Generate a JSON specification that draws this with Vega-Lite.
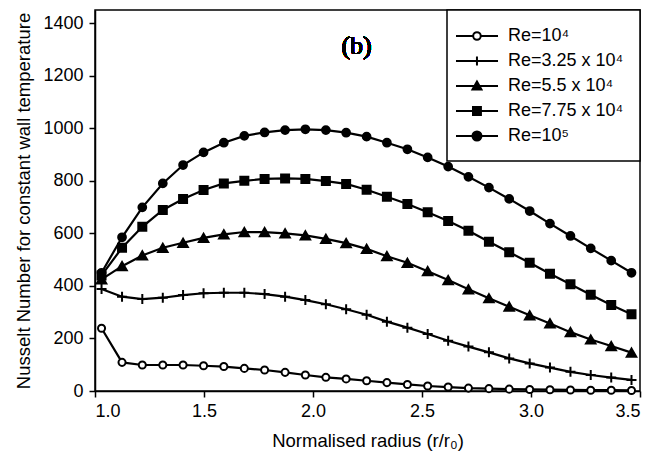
{
  "$schema": "https://vega.github.io/schema/vega-lite/v6.json",
  "width": 545,
  "height": 381,
  "autosize": {"type": "none"},
  "padding": {"left": 95, "top": 10, "right": 23, "bottom": 70},
  "background": "white",
  "config": {
    "view": {"stroke": "black", "strokeWidth": 1.5},
    "axis": {
      "labelFont": "Liberation Sans",
      "titleFont": "Liberation Sans",
      "labelFontSize": 18,
      "titleFontSize": 18.5,
      "titleFontWeight": "normal",
      "labelColor": "black",
      "titleColor": "black",
      "domainColor": "black",
      "domainWidth": 1.5,
      "tickColor": "black",
      "tickWidth": 1.5,
      "tickSize": 6,
      "grid": false
    },
    "legend": {
      "orient": "top-right",
      "offset": 0,
      "padding": 16,
      "rowPadding": 6,
      "strokeColor": "black",
      "strokeWidth": 1.5,
      "fillColor": "white",
      "labelFont": "Liberation Sans",
      "labelFontSize": 18,
      "labelColor": "black",
      "labelOffset": 25,
      "symbolSize": 324,
      "symbolStrokeWidth": 2,
      "symbolStrokeColor": "black"
    }
  },
  "datasets": {
    "nusselt": [
      {"s": "Re=10⁴", "x": 1.03, "y": 239},
      {"s": "Re=10⁴", "x": 1.124, "y": 109},
      {"s": "Re=10⁴", "x": 1.217, "y": 99},
      {"s": "Re=10⁴", "x": 1.311, "y": 99},
      {"s": "Re=10⁴", "x": 1.404, "y": 99},
      {"s": "Re=10⁴", "x": 1.498, "y": 96},
      {"s": "Re=10⁴", "x": 1.591, "y": 93},
      {"s": "Re=10⁴", "x": 1.685, "y": 86},
      {"s": "Re=10⁴", "x": 1.778, "y": 80},
      {"s": "Re=10⁴", "x": 1.872, "y": 71},
      {"s": "Re=10⁴", "x": 1.965, "y": 61},
      {"s": "Re=10⁴", "x": 2.059, "y": 52},
      {"s": "Re=10⁴", "x": 2.152, "y": 46},
      {"s": "Re=10⁴", "x": 2.246, "y": 39},
      {"s": "Re=10⁴", "x": 2.339, "y": 32},
      {"s": "Re=10⁴", "x": 2.433, "y": 25},
      {"s": "Re=10⁴", "x": 2.526, "y": 19},
      {"s": "Re=10⁴", "x": 2.62, "y": 15},
      {"s": "Re=10⁴", "x": 2.713, "y": 11},
      {"s": "Re=10⁴", "x": 2.807, "y": 9},
      {"s": "Re=10⁴", "x": 2.9, "y": 7},
      {"s": "Re=10⁴", "x": 2.994, "y": 6},
      {"s": "Re=10⁴", "x": 3.087, "y": 5},
      {"s": "Re=10⁴", "x": 3.181, "y": 4},
      {"s": "Re=10⁴", "x": 3.274, "y": 3},
      {"s": "Re=10⁴", "x": 3.368, "y": 3},
      {"s": "Re=10⁴", "x": 3.461, "y": 2},

      {"s": "Re=3.25 x 10⁴", "x": 1.03, "y": 388},
      {"s": "Re=3.25 x 10⁴", "x": 1.124, "y": 359},
      {"s": "Re=3.25 x 10⁴", "x": 1.217, "y": 350},
      {"s": "Re=3.25 x 10⁴", "x": 1.311, "y": 355},
      {"s": "Re=3.25 x 10⁴", "x": 1.404, "y": 365},
      {"s": "Re=3.25 x 10⁴", "x": 1.498, "y": 372},
      {"s": "Re=3.25 x 10⁴", "x": 1.591, "y": 374},
      {"s": "Re=3.25 x 10⁴", "x": 1.685, "y": 374},
      {"s": "Re=3.25 x 10⁴", "x": 1.778, "y": 369},
      {"s": "Re=3.25 x 10⁴", "x": 1.872, "y": 359},
      {"s": "Re=3.25 x 10⁴", "x": 1.965, "y": 346},
      {"s": "Re=3.25 x 10⁴", "x": 2.059, "y": 330},
      {"s": "Re=3.25 x 10⁴", "x": 2.152, "y": 311},
      {"s": "Re=3.25 x 10⁴", "x": 2.246, "y": 290},
      {"s": "Re=3.25 x 10⁴", "x": 2.339, "y": 264},
      {"s": "Re=3.25 x 10⁴", "x": 2.433, "y": 241},
      {"s": "Re=3.25 x 10⁴", "x": 2.526, "y": 217},
      {"s": "Re=3.25 x 10⁴", "x": 2.62, "y": 191},
      {"s": "Re=3.25 x 10⁴", "x": 2.713, "y": 169},
      {"s": "Re=3.25 x 10⁴", "x": 2.807, "y": 147},
      {"s": "Re=3.25 x 10⁴", "x": 2.9, "y": 124},
      {"s": "Re=3.25 x 10⁴", "x": 2.994, "y": 105},
      {"s": "Re=3.25 x 10⁴", "x": 3.087, "y": 89},
      {"s": "Re=3.25 x 10⁴", "x": 3.181, "y": 73},
      {"s": "Re=3.25 x 10⁴", "x": 3.274, "y": 61},
      {"s": "Re=3.25 x 10⁴", "x": 3.368, "y": 51},
      {"s": "Re=3.25 x 10⁴", "x": 3.461, "y": 42},

      {"s": "Re=5.5 x 10⁴", "x": 1.03, "y": 425},
      {"s": "Re=5.5 x 10⁴", "x": 1.124, "y": 475},
      {"s": "Re=5.5 x 10⁴", "x": 1.217, "y": 516},
      {"s": "Re=5.5 x 10⁴", "x": 1.311, "y": 545},
      {"s": "Re=5.5 x 10⁴", "x": 1.404, "y": 564},
      {"s": "Re=5.5 x 10⁴", "x": 1.498, "y": 583},
      {"s": "Re=5.5 x 10⁴", "x": 1.591, "y": 596},
      {"s": "Re=5.5 x 10⁴", "x": 1.685, "y": 605},
      {"s": "Re=5.5 x 10⁴", "x": 1.778, "y": 605},
      {"s": "Re=5.5 x 10⁴", "x": 1.872, "y": 600},
      {"s": "Re=5.5 x 10⁴", "x": 1.965, "y": 592},
      {"s": "Re=5.5 x 10⁴", "x": 2.059, "y": 579},
      {"s": "Re=5.5 x 10⁴", "x": 2.152, "y": 563},
      {"s": "Re=5.5 x 10⁴", "x": 2.246, "y": 541},
      {"s": "Re=5.5 x 10⁴", "x": 2.339, "y": 513},
      {"s": "Re=5.5 x 10⁴", "x": 2.433, "y": 488},
      {"s": "Re=5.5 x 10⁴", "x": 2.526, "y": 456},
      {"s": "Re=5.5 x 10⁴", "x": 2.62, "y": 422},
      {"s": "Re=5.5 x 10⁴", "x": 2.713, "y": 387},
      {"s": "Re=5.5 x 10⁴", "x": 2.807, "y": 353},
      {"s": "Re=5.5 x 10⁴", "x": 2.9, "y": 321},
      {"s": "Re=5.5 x 10⁴", "x": 2.994, "y": 288},
      {"s": "Re=5.5 x 10⁴", "x": 3.087, "y": 257},
      {"s": "Re=5.5 x 10⁴", "x": 3.181, "y": 224},
      {"s": "Re=5.5 x 10⁴", "x": 3.274, "y": 196},
      {"s": "Re=5.5 x 10⁴", "x": 3.368, "y": 171},
      {"s": "Re=5.5 x 10⁴", "x": 3.461, "y": 146},

      {"s": "Re=7.75 x 10⁴", "x": 1.03, "y": 440},
      {"s": "Re=7.75 x 10⁴", "x": 1.124, "y": 545},
      {"s": "Re=7.75 x 10⁴", "x": 1.217, "y": 625},
      {"s": "Re=7.75 x 10⁴", "x": 1.311, "y": 689},
      {"s": "Re=7.75 x 10⁴", "x": 1.404, "y": 731},
      {"s": "Re=7.75 x 10⁴", "x": 1.498, "y": 765},
      {"s": "Re=7.75 x 10⁴", "x": 1.591, "y": 790},
      {"s": "Re=7.75 x 10⁴", "x": 1.685, "y": 800},
      {"s": "Re=7.75 x 10⁴", "x": 1.778, "y": 807},
      {"s": "Re=7.75 x 10⁴", "x": 1.872, "y": 809},
      {"s": "Re=7.75 x 10⁴", "x": 1.965, "y": 807},
      {"s": "Re=7.75 x 10⁴", "x": 2.059, "y": 799},
      {"s": "Re=7.75 x 10⁴", "x": 2.152, "y": 788},
      {"s": "Re=7.75 x 10⁴", "x": 2.246, "y": 766},
      {"s": "Re=7.75 x 10⁴", "x": 2.339, "y": 739},
      {"s": "Re=7.75 x 10⁴", "x": 2.433, "y": 712},
      {"s": "Re=7.75 x 10⁴", "x": 2.526, "y": 680},
      {"s": "Re=7.75 x 10⁴", "x": 2.62, "y": 647},
      {"s": "Re=7.75 x 10⁴", "x": 2.713, "y": 610},
      {"s": "Re=7.75 x 10⁴", "x": 2.807, "y": 568},
      {"s": "Re=7.75 x 10⁴", "x": 2.9, "y": 528},
      {"s": "Re=7.75 x 10⁴", "x": 2.994, "y": 488},
      {"s": "Re=7.75 x 10⁴", "x": 3.087, "y": 446},
      {"s": "Re=7.75 x 10⁴", "x": 3.181, "y": 406},
      {"s": "Re=7.75 x 10⁴", "x": 3.274, "y": 366},
      {"s": "Re=7.75 x 10⁴", "x": 3.368, "y": 327},
      {"s": "Re=7.75 x 10⁴", "x": 3.461, "y": 292},

      {"s": "Re=10⁵", "x": 1.03, "y": 450},
      {"s": "Re=10⁵", "x": 1.124, "y": 585},
      {"s": "Re=10⁵", "x": 1.217, "y": 699},
      {"s": "Re=10⁵", "x": 1.311, "y": 790},
      {"s": "Re=10⁵", "x": 1.404, "y": 860},
      {"s": "Re=10⁵", "x": 1.498, "y": 908},
      {"s": "Re=10⁵", "x": 1.591, "y": 945},
      {"s": "Re=10⁵", "x": 1.685, "y": 971},
      {"s": "Re=10⁵", "x": 1.778, "y": 984},
      {"s": "Re=10⁵", "x": 1.872, "y": 993},
      {"s": "Re=10⁵", "x": 1.965, "y": 996},
      {"s": "Re=10⁵", "x": 2.059, "y": 993},
      {"s": "Re=10⁵", "x": 2.152, "y": 983},
      {"s": "Re=10⁵", "x": 2.246, "y": 968},
      {"s": "Re=10⁵", "x": 2.339, "y": 945},
      {"s": "Re=10⁵", "x": 2.433, "y": 920},
      {"s": "Re=10⁵", "x": 2.526, "y": 889},
      {"s": "Re=10⁵", "x": 2.62, "y": 854},
      {"s": "Re=10⁵", "x": 2.713, "y": 815},
      {"s": "Re=10⁵", "x": 2.807, "y": 774},
      {"s": "Re=10⁵", "x": 2.9, "y": 731},
      {"s": "Re=10⁵", "x": 2.994, "y": 685},
      {"s": "Re=10⁵", "x": 3.087, "y": 637},
      {"s": "Re=10⁵", "x": 3.181, "y": 590},
      {"s": "Re=10⁵", "x": 3.274, "y": 543},
      {"s": "Re=10⁵", "x": 3.368, "y": 496},
      {"s": "Re=10⁵", "x": 3.461, "y": 450}
    ]
  },
  "data": {"name": "nusselt"},
  "encoding": {
    "x": {
      "field": "x",
      "type": "quantitative",
      "title": "Normalised radius (r/r₀)",
      "scale": {"domain": [1, 3.5], "nice": false, "zero": false},
      "axis": {"values": [1, 1.5, 2, 2.5, 3, 3.5], "format": ".1f", "labelPadding": 5, "titlePadding": 11}
    },
    "y": {
      "field": "y",
      "type": "quantitative",
      "title": "Nusselt Number for constant wall temperature",
      "scale": {"domain": [0, 1450], "nice": false},
      "axis": {"values": [0, 200, 400, 600, 800, 1000, 1200, 1400], "format": "d", "labelPadding": 6, "titlePadding": 9}
    }
  },
  "layer": [
    {
      "mark": {"type": "line", "color": "black", "strokeWidth": 2.2},
      "encoding": {"detail": {"field": "s", "type": "nominal"}}
    },
    {
      "mark": {"type": "point", "stroke": "black", "strokeWidth": 2, "opacity": 1},
      "encoding": {
        "shape": {
          "condition": [
            {"test": "datum.s === 'Re=3.25 x 10⁴'", "value": "M-1,0H1M0,-1V1"},
            {"test": "datum.s === 'Re=5.5 x 10⁴'", "value": "triangle-up"},
            {"test": "datum.s === 'Re=7.75 x 10⁴'", "value": "square"}
          ],
          "value": "circle"
        },
        "fill": {
          "condition": {"test": "datum.s === 'Re=10⁴'", "value": "white"},
          "value": "black"
        },
        "size": {
          "condition": [
            {"test": "datum.s === 'Re=10⁴'", "value": 50},
            {"test": "datum.s === 'Re=3.25 x 10⁴'", "value": 100},
            {"test": "datum.s === 'Re=5.5 x 10⁴'", "value": 90},
            {"test": "datum.s === 'Re=7.75 x 10⁴'", "value": 64}
          ],
          "value": 60
        }
      }
    },
    {
      "transform": [{"filter": "false"}],
      "mark": {"type": "point", "strokeWidth": 2, "opacity": 1},
      "encoding": {
        "shape": {
          "field": "s",
          "type": "nominal",
          "scale": {
            "domain": ["Re=10⁴", "Re=3.25 x 10⁴", "Re=5.5 x 10⁴", "Re=7.75 x 10⁴", "Re=10⁵"],
            "range": [
              "M-1.89,0H0.02M0.86,0H2.78M0.86,0A0.42,0.42 0 1,1 0.02,0A0.42,0.42 0 1,1 0.86,0Z",
              "M-1.89,0H2.78M0.44,-0.5V0.5",
              "M-1.89,0H2.78M0.44,-0.5L0.94,0.38H-0.06Z",
              "M-1.89,0H2.78M0,-0.44H0.88V0.44H0Z",
              "M-1.89,0H2.78M0.94,0A0.5,0.5 0 1,1 -0.06,0A0.5,0.5 0 1,1 0.94,0Z"
            ]
          },
          "legend": {"title": null}
        },
        "fill": {
          "field": "s",
          "type": "nominal",
          "scale": {
            "domain": ["Re=10⁴", "Re=3.25 x 10⁴", "Re=5.5 x 10⁴", "Re=7.75 x 10⁴", "Re=10⁵"],
            "range": ["white", "black", "black", "black", "black"]
          },
          "legend": {"title": null}
        },
        "stroke": {
          "field": "s",
          "type": "nominal",
          "scale": {
            "domain": ["Re=10⁴", "Re=3.25 x 10⁴", "Re=5.5 x 10⁴", "Re=7.75 x 10⁴", "Re=10⁵"],
            "range": ["black", "black", "black", "black", "black"]
          },
          "legend": {"title": null}
        }
      }
    },
    {
      "mark": {"type": "text", "font": "Liberation Serif", "fontSize": 26, "fontWeight": "normal", "color": "black", "align": "center", "baseline": "middle"},
      "encoding": {
        "x": {"datum": 2.2},
        "y": {"datum": 1312},
        "text": {"value": "(b)"}
      }
    }
  ]
}
